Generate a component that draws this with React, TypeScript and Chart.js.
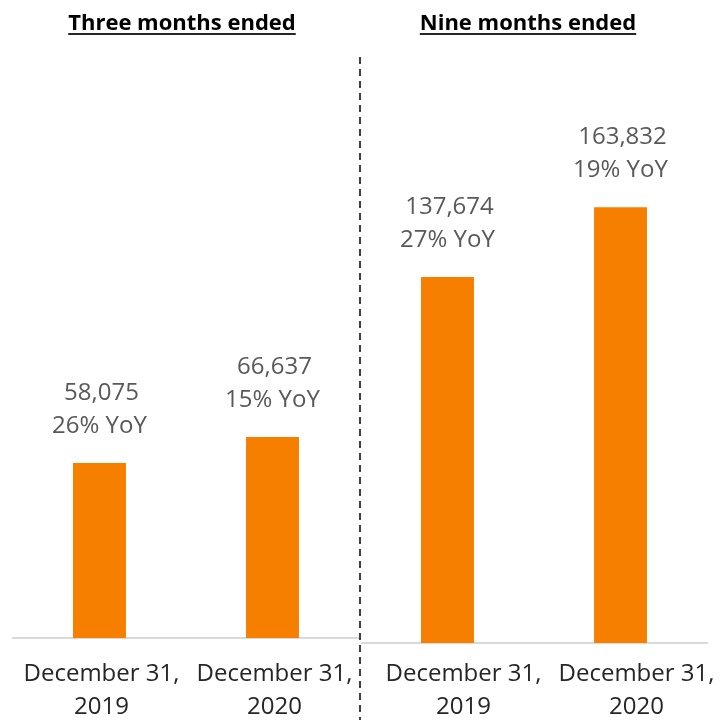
import React, { useEffect, useRef } from "react";
import { Chart, registerables } from "chart.js";

Chart.register(...registerables);

const periodTitles = ["Three months ended", "Nine months ended"];
const categories = [["December 31,", "2019"], ["December 31,", "2020"]];
const threeMonthValues = [58075, 66637];
const threeMonthYoY = [26, 15];
const nineMonthValues = [137674, 163832];
const nineMonthYoY = [27, 19];

const BAR_COLOR = "#F77F00";
const FONT = "'Open Sans', 'Noto Sans', sans-serif";

const labelPlugin = (yoy: number[]) => ({
  id: "valueLabels",
  afterDatasetsDraw(chart: any) {
    const ctx = chart.ctx;
    const meta = chart.getDatasetMeta(0);
    const data = chart.data.datasets[0].data as number[];
    ctx.save();
    ctx.font = `24px ${FONT}`;
    ctx.fillStyle = "#595959";
    ctx.textAlign = "center";
    ctx.textBaseline = "alphabetic";
    meta.data.forEach((bar: any, i: number) => {
      ctx.fillText(data[i].toLocaleString("en-US"), bar.x + 2, bar.y - 63);
      ctx.fillText(`${yoy[i]}% YoY`, bar.x, bar.y - 30);
    });
    ctx.restore();
  },
});

function makeConfig(values: number[], yoy: number[], yMax: number, axisHeight: number, tickGap: number, labelShift: number, padLeft: number, padRight: number) {
  return {
    type: "bar" as const,
    data: {
      labels: categories,
      datasets: [
        {
          data: values,
          backgroundColor: BAR_COLOR,
          barPercentage: 0.306,
          categoryPercentage: 1,
        },
      ],
    },
    options: {
      responsive: false,
      animation: false as const,
      layout: { padding: { left: padLeft, right: padRight, top: 0, bottom: 0 } },
      plugins: { legend: { display: false }, tooltip: { enabled: false } },
      scales: {
        y: { display: false, min: 0, max: yMax },
        x: {
          grid: { display: false, drawTicks: true, tickLength: tickGap },
          border: { display: true, color: "#D9D9D9", width: 2 },
          ticks: {
            autoSkip: false,
            maxRotation: 0,
            minRotation: 0,
            padding: 0,
            labelOffset: labelShift,
            color: "#262626",
            font: { family: FONT, size: 24, lineHeight: 1.375 },
          },
          afterFit: (scale: any) => {
            scale.height = axisHeight;
          },
        },
      },
    },
    plugins: [labelPlugin(yoy)],
  };
}

function BarPanel(props: { values: number[]; yoy: number[]; yMax: number; axisHeight: number; tickGap: number; labelShift: number; padLeft: number; padRight: number; width: number; left: number }) {
  const ref = useRef<HTMLCanvasElement>(null);
  useEffect(() => {
    if (!ref.current) return;
    const chart = new Chart(
      ref.current,
      makeConfig(props.values, props.yoy, props.yMax, props.axisHeight, props.tickGap, props.labelShift, props.padLeft, props.padRight) as any
    );
    return () => chart.destroy();
  }, []);
  return (
    <canvas
      ref={ref}
      width={props.width}
      height={720}
      style={{ position: "absolute", left: props.left, top: 0, width: props.width, height: 720 }}
    />
  );
}

const titleStyle = (center: number): React.CSSProperties => ({
  position: "absolute",
  top: 6,
  left: center - 150,
  width: 300,
  textAlign: "center",
  fontFamily: FONT,
  fontWeight: 700,
  fontSize: 22,
  lineHeight: "30px",
  color: "#000",
  textDecoration: "underline",
  textDecorationThickness: "2px",
  textUnderlineOffset: "3px",
  textDecorationColor: "#262626",
});

export default function App() {
  return (
    <div style={{ position: "absolute", left: 0, top: 0, width: 727, height: 720, background: "#fff", overflow: "hidden" }}>
      <BarPanel values={threeMonthValues} yoy={threeMonthYoY} yMax={211600} axisHeight={82} tickGap={20} labelShift={2} padLeft={13} padRight={1} width={360} left={0} />
      <BarPanel values={nineMonthValues} yoy={nineMonthYoY} yMax={241800} axisHeight={77} tickGap={15} labelShift={16} padLeft={0} padRight={20} width={366} left={361} />
      <div
        style={{
          position: "absolute",
          left: 359,
          top: 57,
          width: 2,
          height: 663,
          background: "repeating-linear-gradient(to bottom, #404040 0px, #404040 7px, transparent 7px, transparent 12px)",
        }}
      />
      <div style={titleStyle(182)}>{periodTitles[0]}</div>
      <div style={titleStyle(528)}>{periodTitles[1]}</div>
    </div>
  );
}
